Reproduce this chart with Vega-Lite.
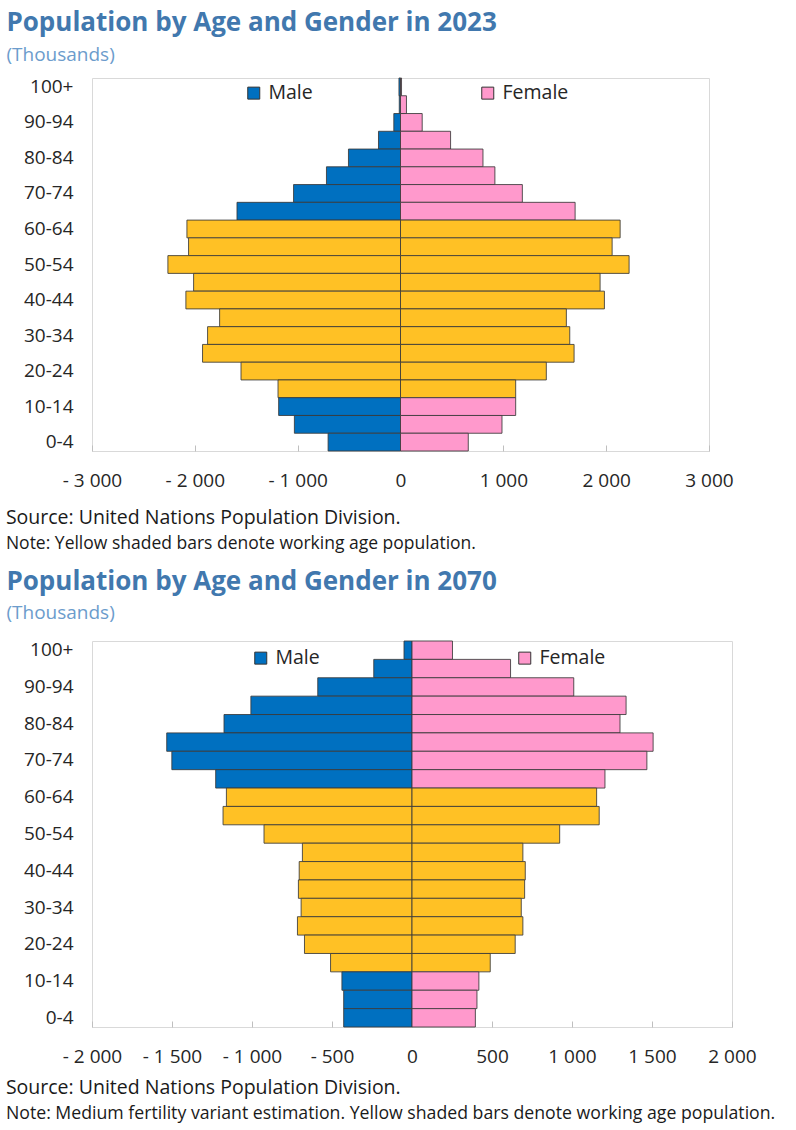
{
  "$schema": "https://vega.github.io/schema/vega-lite/v6.json",
  "background": "white",
  "padding": {"left": 5, "top": 9, "right": 5, "bottom": 0},
  "config": {
    "font": "Open Sans",
    "view": {"stroke": "#d9d9d9", "strokeWidth": 1},
    "axis": {
      "grid": false,
      "domain": false,
      "labelFont": "Open Sans",
      "labelFontSize": 19,
      "labelColor": "#262626",
      "title": null
    },
    "legend": {
      "orient": "none",
      "direction": "horizontal",
      "title": null,
      "padding": 0,
      "symbolType": "square",
      "symbolSize": 144,
      "symbolStrokeColor": "#333333",
      "symbolStrokeWidth": 1,
      "symbolOpacity": 1,
      "labelFont": "Open Sans",
      "labelFontSize": 19.5,
      "labelColor": "#262626",
      "labelOffset": 5
    }
  },
  "datasets": {
    "pop2023": [
      {"age": "100+", "start": 100, "sex": "Male", "value": -15},
      {"age": "100+", "start": 100, "sex": "Female", "value": 10},
      {"age": "95-99", "start": 95, "sex": "Male", "value": -12},
      {"age": "95-99", "start": 95, "sex": "Female", "value": 58},
      {"age": "90-94", "start": 90, "sex": "Male", "value": -65},
      {"age": "90-94", "start": 90, "sex": "Female", "value": 211},
      {"age": "85-89", "start": 85, "sex": "Male", "value": -214},
      {"age": "85-89", "start": 85, "sex": "Female", "value": 487},
      {"age": "80-84", "start": 80, "sex": "Male", "value": -506},
      {"age": "80-84", "start": 80, "sex": "Female", "value": 802},
      {"age": "75-79", "start": 75, "sex": "Male", "value": -720},
      {"age": "75-79", "start": 75, "sex": "Female", "value": 918},
      {"age": "70-74", "start": 70, "sex": "Male", "value": -1040},
      {"age": "70-74", "start": 70, "sex": "Female", "value": 1185},
      {"age": "65-69", "start": 65, "sex": "Male", "value": -1590},
      {"age": "65-69", "start": 65, "sex": "Female", "value": 1698},
      {"age": "60-64", "start": 60, "sex": "Male", "value": -2077},
      {"age": "60-64", "start": 60, "sex": "Female", "value": 2136},
      {"age": "55-59", "start": 55, "sex": "Male", "value": -2061},
      {"age": "55-59", "start": 55, "sex": "Female", "value": 2058},
      {"age": "50-54", "start": 50, "sex": "Male", "value": -2262},
      {"age": "50-54", "start": 50, "sex": "Female", "value": 2223},
      {"age": "45-49", "start": 45, "sex": "Male", "value": -2012},
      {"age": "45-49", "start": 45, "sex": "Female", "value": 1941},
      {"age": "40-44", "start": 40, "sex": "Male", "value": -2087},
      {"age": "40-44", "start": 40, "sex": "Female", "value": 1983},
      {"age": "35-39", "start": 35, "sex": "Male", "value": -1759},
      {"age": "35-39", "start": 35, "sex": "Female", "value": 1613},
      {"age": "30-34", "start": 30, "sex": "Male", "value": -1876},
      {"age": "30-34", "start": 30, "sex": "Female", "value": 1646},
      {"age": "25-29", "start": 25, "sex": "Male", "value": -1925},
      {"age": "25-29", "start": 25, "sex": "Female", "value": 1688},
      {"age": "20-24", "start": 20, "sex": "Male", "value": -1551},
      {"age": "20-24", "start": 20, "sex": "Female", "value": 1418},
      {"age": "15-19", "start": 15, "sex": "Male", "value": -1191},
      {"age": "15-19", "start": 15, "sex": "Female", "value": 1120},
      {"age": "10-14", "start": 10, "sex": "Male", "value": -1185},
      {"age": "10-14", "start": 10, "sex": "Female", "value": 1120},
      {"age": "5-9", "start": 5, "sex": "Male", "value": -1032},
      {"age": "5-9", "start": 5, "sex": "Female", "value": 987},
      {"age": "0-4", "start": 0, "sex": "Male", "value": -704},
      {"age": "0-4", "start": 0, "sex": "Female", "value": 659}
    ],
    "pop2070": [
      {"age": "100+", "start": 100, "sex": "Male", "value": -50},
      {"age": "100+", "start": 100, "sex": "Female", "value": 253},
      {"age": "95-99", "start": 95, "sex": "Male", "value": -239},
      {"age": "95-99", "start": 95, "sex": "Female", "value": 616},
      {"age": "90-94", "start": 90, "sex": "Male", "value": -589},
      {"age": "90-94", "start": 90, "sex": "Female", "value": 1011},
      {"age": "85-89", "start": 85, "sex": "Male", "value": -1007},
      {"age": "85-89", "start": 85, "sex": "Female", "value": 1338},
      {"age": "80-84", "start": 80, "sex": "Male", "value": -1175},
      {"age": "80-84", "start": 80, "sex": "Female", "value": 1300},
      {"age": "75-79", "start": 75, "sex": "Male", "value": -1533},
      {"age": "75-79", "start": 75, "sex": "Female", "value": 1507},
      {"age": "70-74", "start": 70, "sex": "Male", "value": -1501},
      {"age": "70-74", "start": 70, "sex": "Female", "value": 1468},
      {"age": "65-69", "start": 65, "sex": "Male", "value": -1227},
      {"age": "65-69", "start": 65, "sex": "Female", "value": 1206},
      {"age": "60-64", "start": 60, "sex": "Male", "value": -1160},
      {"age": "60-64", "start": 60, "sex": "Female", "value": 1154},
      {"age": "55-59", "start": 55, "sex": "Male", "value": -1181},
      {"age": "55-59", "start": 55, "sex": "Female", "value": 1170},
      {"age": "50-54", "start": 50, "sex": "Male", "value": -925},
      {"age": "50-54", "start": 50, "sex": "Female", "value": 923},
      {"age": "45-49", "start": 45, "sex": "Male", "value": -685},
      {"age": "45-49", "start": 45, "sex": "Female", "value": 693},
      {"age": "40-44", "start": 40, "sex": "Male", "value": -705},
      {"age": "40-44", "start": 40, "sex": "Female", "value": 708},
      {"age": "35-39", "start": 35, "sex": "Male", "value": -710},
      {"age": "35-39", "start": 35, "sex": "Female", "value": 704},
      {"age": "30-34", "start": 30, "sex": "Male", "value": -693},
      {"age": "30-34", "start": 30, "sex": "Female", "value": 683},
      {"age": "25-29", "start": 25, "sex": "Male", "value": -716},
      {"age": "25-29", "start": 25, "sex": "Female", "value": 693},
      {"age": "20-24", "start": 20, "sex": "Male", "value": -672},
      {"age": "20-24", "start": 20, "sex": "Female", "value": 645},
      {"age": "15-19", "start": 15, "sex": "Male", "value": -509},
      {"age": "15-19", "start": 15, "sex": "Female", "value": 489},
      {"age": "10-14", "start": 10, "sex": "Male", "value": -438},
      {"age": "10-14", "start": 10, "sex": "Female", "value": 418},
      {"age": "5-9", "start": 5, "sex": "Male", "value": -427},
      {"age": "5-9", "start": 5, "sex": "Female", "value": 406},
      {"age": "0-4", "start": 0, "sex": "Male", "value": -427},
      {"age": "0-4", "start": 0, "sex": "Female", "value": 396}
    ]
  },
  "spacing": 15,
  "resolve": {"scale": {"color": "independent"}, "legend": {"color": "independent"}},
  "vconcat": [
    {
      "title": {
        "text": "Source: United Nations Population Division.",
        "subtitle": "Note: Yellow shaded bars denote working age population.",
        "orient": "bottom",
        "anchor": "start",
        "frame": "bounds",
        "offset": 18,
        "font": "Open Sans",
        "fontSize": 19.5,
        "fontWeight": "normal",
        "color": "#1a1a1a",
        "subtitleFont": "Open Sans",
        "subtitleFontSize": 17.5,
        "subtitleColor": "#1a1a1a",
        "subtitlePadding": 7
      },
      "vconcat": [
        {
          "title": {
            "text": "Population by Age and Gender in 2023",
            "subtitle": "(Thousands)",
            "anchor": "start",
            "frame": "bounds",
            "dx": -17,
            "offset": 12,
            "font": "Open Sans",
            "fontSize": 26,
            "fontWeight": "bold",
            "color": "#4178ae",
            "subtitleFont": "Open Sans",
            "subtitleFontSize": 19,
            "subtitleColor": "#6c9ccc",
            "subtitlePadding": 10
          },
          "width": 617,
          "height": 373,
          "data": {"name": "pop2023"},
          "mark": {"type": "bar", "stroke": "#3a3a3a", "strokeWidth": 1, "strokeOpacity": 0.85},
          "encoding": {
            "y": {
              "field": "age",
              "type": "ordinal",
              "scale": {
                "domain": ["100+", "95-99", "90-94", "85-89", "80-84", "75-79", "70-74", "65-69", "60-64", "55-59", "50-54", "45-49", "40-44", "35-39", "30-34", "25-29", "20-24", "15-19", "10-14", "5-9", "0-4"],
                "paddingInner": 0,
                "paddingOuter": 0
              },
              "axis": {
                "values": ["100+", "90-94", "80-84", "70-74", "60-64", "50-54", "40-44", "30-34", "20-24", "10-14", "0-4"],
                "ticks": false,
                "labelPadding": 19
              }
            },
            "x": {
              "field": "value",
              "type": "quantitative",
              "stack": null,
              "scale": {"domain": [-3000, 3000], "nice": false, "zero": false},
              "axis": {
                "values": [-3000, -2000, -1000, 0, 1000, 2000, 3000],
                "tickSize": -6,
                "tickColor": "#bfbfbf",
                "labelFlush": false,
                "labelOverlap": false,
                "labelPadding": 26,
                "labelExpr": "datum.value < 0 ? '- ' + replace(format(-datum.value, ','), ',', ' ') : replace(format(datum.value, ','), ',', ' ')"
              }
            },
            "color": {
              "condition": {"test": "datum.start >= 15 && datum.start <= 64", "value": "#FFC125"},
              "field": "sex",
              "type": "nominal",
              "scale": {"domain": ["Male", "Female"], "range": ["#0070C0", "#FF99CC"]},
              "legend": {"legendX": 152, "legendY": 5, "columnPadding": 165}
            }
          }
        }
      ]
    },
    {
      "title": {
        "text": "Source: United Nations Population Division.",
        "subtitle": "Note: Medium fertility variant estimation. Yellow shaded bars denote working age population.",
        "orient": "bottom",
        "anchor": "start",
        "frame": "bounds",
        "offset": 12,
        "font": "Open Sans",
        "fontSize": 19.5,
        "fontWeight": "normal",
        "color": "#1a1a1a",
        "subtitleFont": "Open Sans",
        "subtitleFontSize": 17.7,
        "subtitleColor": "#1a1a1a",
        "subtitlePadding": 7
      },
      "vconcat": [
        {
          "title": {
            "text": "Population by Age and Gender in 2070",
            "subtitle": "(Thousands)",
            "anchor": "start",
            "frame": "bounds",
            "dx": -17,
            "offset": 18,
            "font": "Open Sans",
            "fontSize": 26,
            "fontWeight": "bold",
            "color": "#4178ae",
            "subtitleFont": "Open Sans",
            "subtitleFontSize": 19,
            "subtitleColor": "#6c9ccc",
            "subtitlePadding": 9
          },
          "width": 640,
          "height": 386,
          "data": {"name": "pop2070"},
          "mark": {"type": "bar", "stroke": "#3a3a3a", "strokeWidth": 1, "strokeOpacity": 0.85},
          "encoding": {
            "y": {
              "field": "age",
              "type": "ordinal",
              "scale": {
                "domain": ["100+", "95-99", "90-94", "85-89", "80-84", "75-79", "70-74", "65-69", "60-64", "55-59", "50-54", "45-49", "40-44", "35-39", "30-34", "25-29", "20-24", "15-19", "10-14", "5-9", "0-4"],
                "paddingInner": 0,
                "paddingOuter": 0
              },
              "axis": {
                "values": ["100+", "90-94", "80-84", "70-74", "60-64", "50-54", "40-44", "30-34", "20-24", "10-14", "0-4"],
                "ticks": false,
                "labelPadding": 19
              }
            },
            "x": {
              "field": "value",
              "type": "quantitative",
              "stack": null,
              "scale": {"domain": [-2000, 2000], "nice": false, "zero": false},
              "axis": {
                "values": [-2000, -1500, -1000, -500, 0, 500, 1000, 1500, 2000],
                "tickSize": -6,
                "tickColor": "#bfbfbf",
                "labelFlush": false,
                "labelOverlap": false,
                "labelPadding": 26,
                "labelExpr": "datum.value < 0 ? '- ' + replace(format(-datum.value, ','), ',', ' ') : replace(format(datum.value, ','), ',', ' ')"
              }
            },
            "color": {
              "condition": {"test": "datum.start >= 15 && datum.start <= 64", "value": "#FFC125"},
              "field": "sex",
              "type": "nominal",
              "scale": {"domain": ["Male", "Female"], "range": ["#0070C0", "#FF99CC"]},
              "legend": {"legendX": 159, "legendY": 7, "columnPadding": 195}
            }
          }
        }
      ]
    }
  ]
}
